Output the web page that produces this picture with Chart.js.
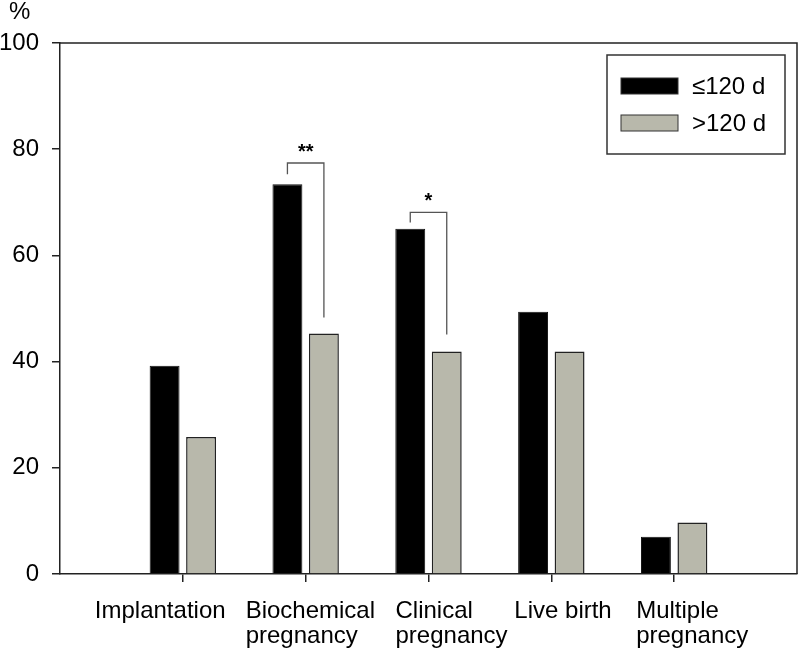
<!DOCTYPE html>
<html>
<head>
<meta charset="utf-8">
<script src="https://cdn.jsdelivr.net/npm/chart.js@4"></script>
<style>
   body { margin: 0; background: #fff; }
   .wrap { width: 800px; height: 654px; }
</style>
</head>
<body>
<div class="wrap"><canvas id="myChart"></canvas></div>
<script>
// ==========================================
// Data
// ==========================================

const categories = [["Implantation"], ["Biochemical", "pregnancy"], ["Clinical", "pregnancy"], ["Live birth"], ["Multiple", "pregnancy"]];
const seriesNames = ["\u2264120 d", ">120 d"];
const shortGroup = [39.2, 73.4, 65.0, 49.4, 7.0];
const longGroup = [25.8, 45.3, 41.9, 41.9, 9.7];
const yTicks = [0, 20, 40, 60, 80, 100];

// significance brackets: category index, bracket top, left leg end, right leg end
const sigCategory = [1, 2];
const sigTop = [77.4, 68.1];
const sigLeftEnd = [75.3, 66.2];
const sigRightEnd = [48.3, 45.1];
const sigText = ["**", "*"];

// ==========================================
// Layout / style
// ==========================================

const font = "'Liberation Sans', Arial, sans-serif";
const grayFill = "#b8b8ab";
const labelShift = [-88, -60, -33, -37, -38]; // left edge of each category label vs its tick

function toPoints(arr) {
   return arr.map((v, i) => ({ x: i + 1, y: v }));
}

// Extra drawing: frame, x labels, %, brackets, legend
const extras = {
   id: "extras",
   afterDraw(chart) {
      const ctx = chart.ctx;
      const area = chart.chartArea;
      const xs = chart.scales.x;
      const ys = chart.scales.y;
      ctx.save();

      // frame (top + right)
      ctx.strokeStyle = "#222";
      ctx.lineWidth = 1.5;
      ctx.beginPath();
      ctx.moveTo(area.left, area.top);
      ctx.lineTo(area.right, area.top);
      ctx.lineTo(area.right, area.bottom);
      ctx.stroke();

      // category labels
      ctx.fillStyle = "#000";
      ctx.font = "24px " + font;
      ctx.textAlign = "left";
      ctx.textBaseline = "alphabetic";
      categories.forEach((lines, i) => {
         let x = xs.getPixelForValue(i + 1) + labelShift[i];
         lines.forEach((line, j) => {
            ctx.fillText(line, x, area.bottom + 44 + j * 25);
         });
      });

      // unit
      ctx.fillText("%", 9, 19);

      // brackets
      ctx.strokeStyle = "#555";
      ctx.lineWidth = 1.3;
      const meta0 = chart.getDatasetMeta(0);
      const meta1 = chart.getDatasetMeta(1);
      sigCategory.forEach((c, i) => {
         let xl = meta0.data[c].x;
         let xr = meta1.data[c].x;
         let yt = ys.getPixelForValue(sigTop[i]);
         ctx.beginPath();
         ctx.moveTo(xl, ys.getPixelForValue(sigLeftEnd[i]));
         ctx.lineTo(xl, yt);
         ctx.lineTo(xr, yt);
         ctx.lineTo(xr, ys.getPixelForValue(sigRightEnd[i]));
         ctx.stroke();
         ctx.font = "bold 20px " + font;
         ctx.textAlign = "center";
         ctx.fillText(sigText[i], (xl + xr) / 2, yt - 5);
      });

      // legend
      ctx.strokeStyle = "#333";
      ctx.lineWidth = 1.5;
      ctx.strokeRect(607, 55, 178, 99);
      ctx.font = "24px " + font;
      ctx.textAlign = "left";
      ctx.textBaseline = "middle";
      chart.data.datasets.forEach((ds, i) => {
         let cy = 86 + i * 37;
         ctx.fillStyle = ds.backgroundColor;
         ctx.fillRect(621, cy - 8, 57, 16);
         ctx.strokeStyle = "#333";
         ctx.lineWidth = 1;
         ctx.strokeRect(621, cy - 8, 57, 16);
         ctx.fillStyle = "#000";
         ctx.fillText(ds.label, 692, cy + 1);
      });

      ctx.restore();
   }
};

// ==========================================
// Chart
// ==========================================

const chart = new Chart(document.getElementById("myChart"), {
   type: "bar",
   data: {
      datasets: [{
         label: seriesNames[0],
         data: toPoints(shortGroup),
         backgroundColor: "#000",
         borderColor: "#111",
         borderWidth: 1
      }, {
         label: seriesNames[1],
         data: toPoints(longGroup),
         backgroundColor: grayFill,
         borderColor: "#222",
         borderWidth: 1.5
      }]
   },
   options: {
      responsive: true,
      maintainAspectRatio: false,
      animation: false,
      barPercentage: 0.82,
      categoryPercentage: 0.594,
      layout: { padding: { top: 43, right: 3, left: 0, bottom: 0 } },
      plugins: {
         legend: { display: false },
         tooltip: { enabled: false }
      },
      scales: {
         x: {
            type: "linear",
            min: 0,
            max: 6,
            offset: false,
            afterBuildTicks: (scale) => {
               scale.ticks = categories.map((c, i) => ({ value: i + 1 }));
            },
            afterFit: (scale) => { scale.height = 80; },
            ticks: { display: false },
            grid: { offset: false, drawOnChartArea: false, drawTicks: true, tickLength: 8, color: "#222", lineWidth: 1.5 },
            border: { color: "#222", width: 1.5 }
         },
         y: {
            min: 0,
            max: 100,
            afterBuildTicks: (scale) => {
               scale.ticks = yTicks.map((v) => ({ value: v }));
            },
            afterFit: (scale) => { scale.width = 60; },
            ticks: { color: "#000", padding: 13, font: { family: font, size: 24 } },
            grid: { drawOnChartArea: false, drawTicks: true, tickLength: 8, color: "#222", lineWidth: 1.5 },
            border: { color: "#222", width: 1.5 }
         }
      }
   },
   plugins: [extras]
});
</script>
</body>
</html>
